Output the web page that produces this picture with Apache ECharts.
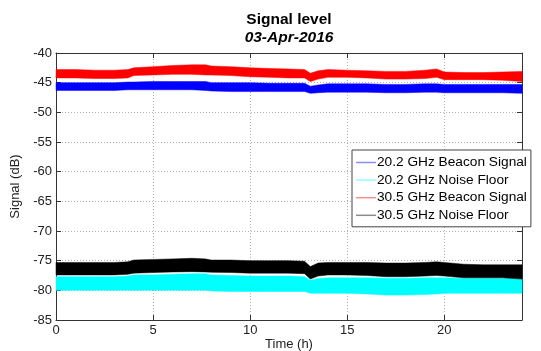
<!DOCTYPE html>
<html>
<head>
<meta charset="utf-8">
<script src="https://cdn.jsdelivr.net/npm/echarts@6/dist/echarts.min.js"></script>
<style>
html,body{margin:0;padding:0;background:#fff;}
#chart{width:541px;height:351px;}
</style>
</head>
<body>
<div id="chart"></div>
<script>
// Time in hours
var times = [0,1,2,3,3.7,4,5,6,7,7.7,8,9,10,11,12,12.8,13.1,13.5,14,15,16,17,18,19,19.6,20,21,22,23,24];

// 20.2 GHz Beacon Signal (band upper / lower envelope, dB)
var beacon20Upper = [-45.0,-45.0,-45.0,-45.0,-44.9,-44.9,-44.8,-44.8,-44.8,-44.8,-45.0,-45.0,-45.0,-45.1,-45.1,-45.1,-45.6,-45.4,-45.2,-45.2,-45.2,-45.3,-45.3,-45.2,-45.2,-45.3,-45.3,-45.3,-45.3,-45.3];
var beacon20Lower = [-46.3,-46.3,-46.3,-46.3,-46.2,-46.2,-46.2,-46.2,-46.2,-46.3,-46.4,-46.5,-46.5,-46.5,-46.5,-46.5,-46.8,-46.7,-46.6,-46.6,-46.6,-46.7,-46.7,-46.6,-46.6,-46.7,-46.7,-46.7,-46.7,-46.8];

// 20.2 GHz Noise Floor
var noise20Upper = [-77.7,-77.7,-77.7,-77.7,-77.6,-77.4,-77.4,-77.3,-77.2,-77.2,-77.4,-77.5,-77.6,-77.6,-77.6,-77.7,-78.3,-78.0,-77.9,-77.9,-77.9,-77.95,-77.95,-77.9,-77.9,-77.9,-78.0,-78.0,-78.0,-78.0];
var noise20Lower = [-80.0,-80.0,-80.0,-80.0,-80.0,-80.0,-80.0,-80.0,-80.0,-80.0,-80.1,-80.2,-80.2,-80.2,-80.2,-80.2,-80.5,-80.5,-80.5,-80.5,-80.6,-80.8,-80.8,-80.7,-80.6,-80.5,-80.5,-80.5,-80.5,-80.5];

// 30.5 GHz Beacon Signal
var beacon30Upper = [-42.8,-42.8,-42.9,-42.9,-42.8,-42.5,-42.3,-42.1,-42.0,-42.0,-42.2,-42.3,-42.5,-42.6,-42.7,-42.8,-43.4,-43.0,-42.8,-42.9,-43.0,-43.1,-43.1,-42.9,-42.7,-43.2,-43.3,-43.3,-43.2,-43.1];
var beacon30Lower = [-44.2,-44.2,-44.3,-44.3,-44.2,-43.8,-43.7,-43.6,-43.6,-43.7,-43.7,-43.8,-44.0,-44.1,-44.2,-44.2,-44.8,-44.4,-44.1,-44.1,-44.2,-44.4,-44.4,-44.3,-44.1,-44.5,-44.5,-44.5,-44.6,-44.8];

// 30.5 GHz Noise Floor
var noise30Upper = [-75.3,-75.3,-75.3,-75.3,-75.2,-74.9,-74.8,-74.7,-74.6,-74.7,-74.9,-74.9,-75.0,-75.0,-75.0,-75.1,-76.0,-75.4,-75.3,-75.3,-75.3,-75.4,-75.4,-75.3,-75.2,-75.3,-75.6,-75.7,-75.7,-75.7];
var noise30Lower = [-77.4,-77.4,-77.4,-77.4,-77.3,-77.1,-77.0,-76.9,-76.85,-76.9,-76.95,-77.0,-77.1,-77.1,-77.1,-77.2,-78.1,-77.6,-77.4,-77.4,-77.5,-77.7,-77.7,-77.6,-77.5,-77.6,-77.9,-77.9,-77.9,-78.1];

var xTicks = [0,5,10,15,20];
var yTicks = [-85,-80,-75,-70,-65,-60,-55,-50,-45,-40];

var seriesNames = ['20.2 GHz Beacon Signal','20.2 GHz Noise Floor','30.5 GHz Beacon Signal','30.5 GHz Noise Floor'];
var bandColors = ['#0000ff','#00ffff','#ff0000','#000000'];
var legendColors = ['#8c8cff','#8cffff','#ff8c8c','#8c8c8c'];
var uppers = [beacon20Upper, noise20Upper, beacon30Upper, noise30Upper];
var lowers = [beacon20Lower, noise20Lower, beacon30Lower, noise30Lower];

var FONT = 'Liberation Sans, Arial, sans-serif';

function makeBand(s) {
  var rows = [];
  for (var i = 0; i < times.length; i++) {
    rows.push([times[i], uppers[s][i], lowers[s][i]]);
  }
  var col = bandColors[s];
  return {
    name: seriesNames[s], type: 'custom', silent: true, z: 2,
    itemStyle: {color: legendColors[s]},
    encode: {x: 0, y: [1, 2]},
    data: rows,
    renderItem: function (params, api) {
      // draw the whole band once, as one polygon, through the axis scales
      if (params.dataIndex !== 0) return null;
      var top = [], bot = [];
      for (var i = 0; i < rows.length; i++) {
        top.push(api.coord([rows[i][0], rows[i][1]]));
        bot.push(api.coord([rows[i][0], rows[i][2]]));
      }
      var pts = top.concat(bot.reverse());
      return {
        type: 'polygon',
        shape: {points: pts},
        style: {fill: col, stroke: col, lineWidth: 0.5}
      };
    }
  };
}
var series = [0, 1, 2, 3].map(makeBand);

var chart = echarts.init(document.getElementById('chart'), null, {renderer: 'canvas'});
chart.setOption({
  animation: false,
  backgroundColor: '#ffffff',
  grid: {left: 56, right: 19, top: 53, bottom: 31, containLabel: false, outerBoundsMode: 'none'},
  graphic: [
    {type: 'text', x: 289, y: 12, style: {text: 'Signal level', font: 'bold 15.5px ' + FONT, fill: '#000', textAlign: 'center', textVerticalAlign: 'top'}},
    {type: 'text', x: 289, y: 30, style: {text: '03-Apr-2016', font: 'italic bold 15.5px ' + FONT, fill: '#000', textAlign: 'center', textVerticalAlign: 'top'}}
  ],
  legend: {
    orient: 'vertical', left: 352, top: 150,
    data: seriesNames.map(function (n, k) { return {name: n, icon: 'rect', itemStyle: {color: legendColors[k]}}; }),
    itemWidth: 20, itemHeight: 1.5, itemGap: 2.6,
    textStyle: {fontFamily: FONT, fontSize: 13.7, color: '#000', padding: [0, 0, 0, -4], lineHeight: 15},
    backgroundColor: '#fff', borderColor: '#444', borderWidth: 1, borderRadius: 0,
    padding: [5, 4, 4, 4], selectedMode: false
  },
  xAxis: [{
    type: 'value', min: 0, max: 24, interval: 5,
    name: 'Time (h)', nameLocation: 'middle', nameGap: 18, nameMoveOverlap: false,
    nameTextStyle: {fontFamily: FONT, fontSize: 13, color: '#222'},
    axisLine: {show: true, onZero: false, lineStyle: {color: '#333', width: 1}},
    axisTick: {show: true, inside: true, length: 5, lineStyle: {color: '#333'}},
    axisLabel: {fontFamily: FONT, fontSize: 13, color: '#222', margin: 4,
      formatter: function (v) { return xTicks.indexOf(v) >= 0 ? String(v) : ''; }},
    splitLine: {show: true, lineStyle: {color: '#b0b0b0', type: [1, 2], width: 1}}
  }, {
    type: 'value', min: 0, max: 24, interval: 5, position: 'top',
    axisLine: {show: true, onZero: false, lineStyle: {color: '#333', width: 1}},
    axisTick: {show: true, inside: true, length: 5, lineStyle: {color: '#333'}},
    axisLabel: {show: false}, splitLine: {show: false}
  }],
  yAxis: [{
    type: 'value', min: -85, max: -40, interval: 5,
    name: 'Signal (dB)', nameLocation: 'middle', nameGap: 34, nameRotate: 90, nameMoveOverlap: false,
    nameTextStyle: {fontFamily: FONT, fontSize: 13, color: '#222'},
    axisLine: {show: true, onZero: false, lineStyle: {color: '#333', width: 1}},
    axisTick: {show: true, inside: true, length: 5, lineStyle: {color: '#333'}},
    axisLabel: {fontFamily: FONT, fontSize: 13, color: '#222', margin: 4,
      formatter: function (v) { return yTicks.indexOf(v) >= 0 ? String(v) : ''; }},
    splitLine: {show: true, lineStyle: {color: '#b0b0b0', type: [1, 2], width: 1}}
  }, {
    type: 'value', min: -85, max: -40, interval: 5, position: 'right',
    axisLine: {show: true, onZero: false, lineStyle: {color: '#333', width: 1}},
    axisTick: {show: true, inside: true, length: 5, lineStyle: {color: '#333'}},
    axisLabel: {show: false}, splitLine: {show: false}
  }],
  series: series
});
</script>
</body>
</html>
